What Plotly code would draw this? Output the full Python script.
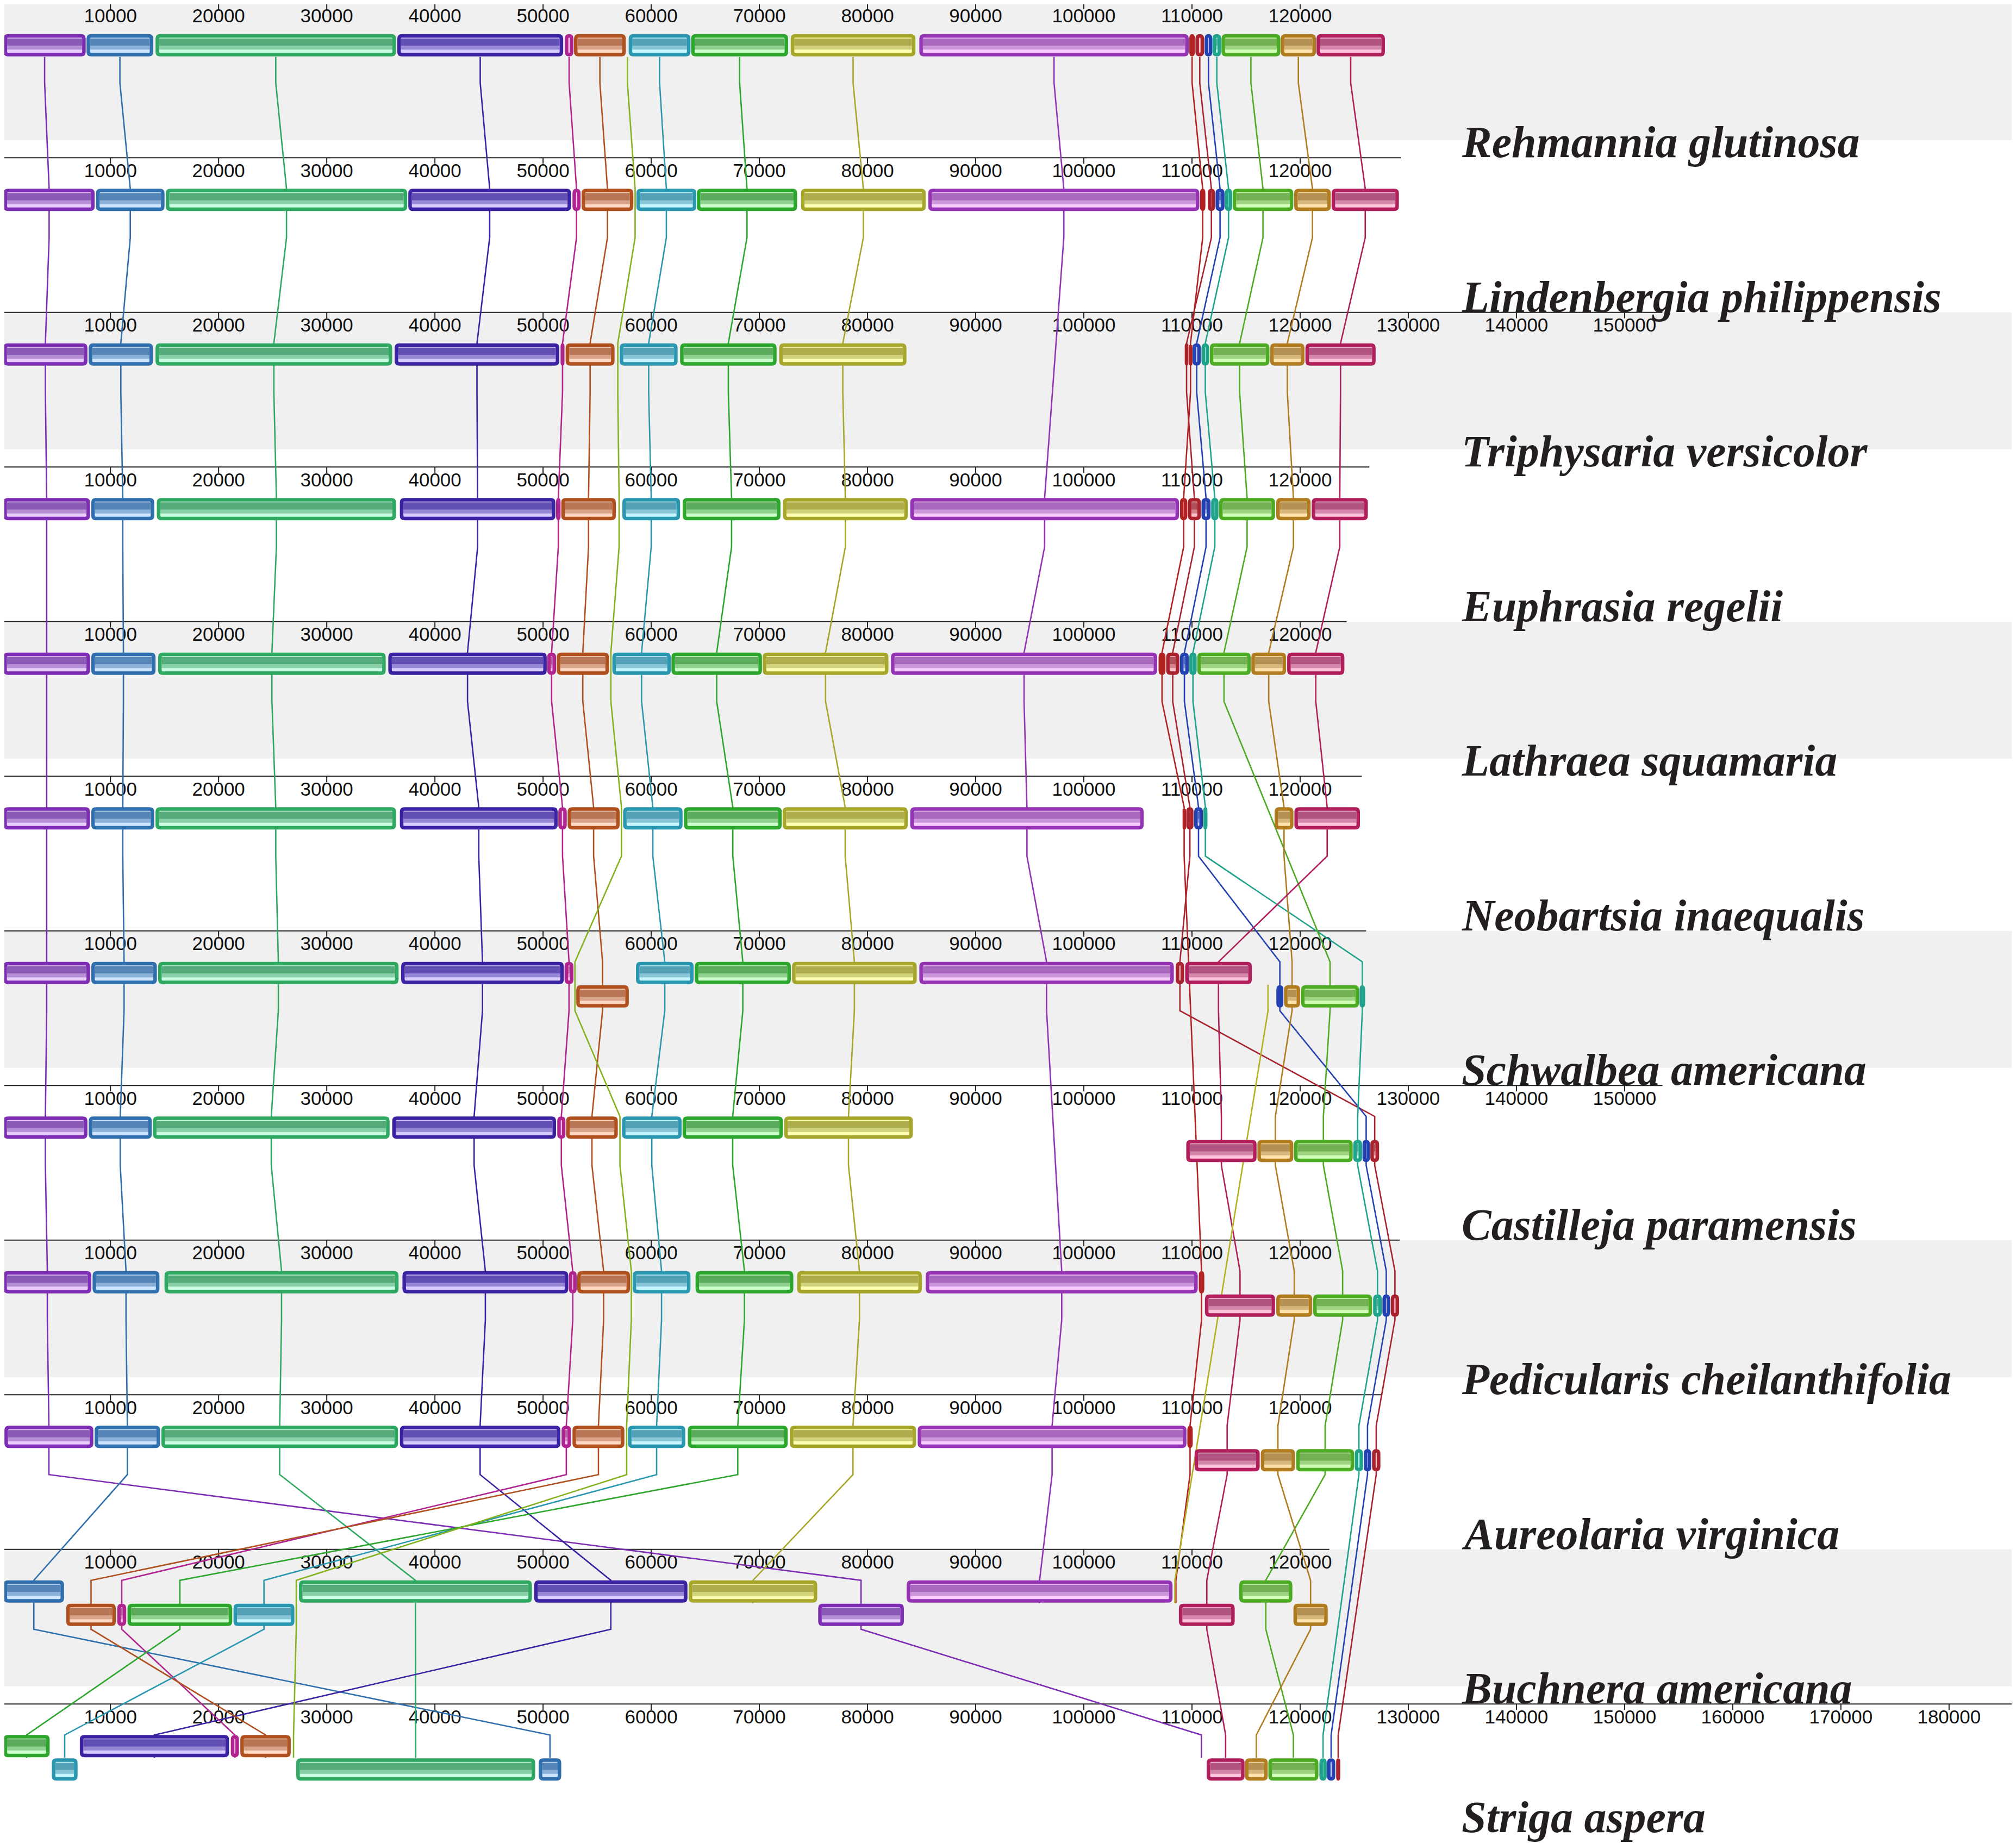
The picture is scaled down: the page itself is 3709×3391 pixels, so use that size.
import plotly.graph_objects as go

# ------------------------------------------------
# Data: genomes (top to bottom), lengths, LCB blocks
# block = (lcb id, start bp, end bp, strand)  strand -1 = drawn below centre line
# ------------------------------------------------
species = [
    "Rehmannia glutinosa", "Lindenbergia philippensis", "Triphysaria versicolor",
    "Euphrasia regelii", "Lathraea squamaria", "Neobartsia inaequalis",
    "Schwalbea americana", "Castilleja paramensis", "Pedicularis cheilanthifolia",
    "Aureolaria virginica", "Buchnera americana", "Striga aspera",
]
genome_length = [127900, 129300, 153500, 126400, 124300, 125700,
                 126100, 153500, 129200, 127500, 122700, 187000]

rehmannia = [
    ("A", 120, 7710, 1), ("B", 7790, 13960, 1), ("C", 14170, 36400, 1),
    ("D", 36520, 51860, 1), ("E", 52010, 52810, 1), ("F", 52860, 57650, 1),
    ("G", 57920, 63630, 1), ("H", 63690, 72660, 1), ("I", 72900, 84430, 1),
    ("J", 84790, 109700, 1), ("K", 109750, 110270, 1), ("L", 110320, 111120, 1),
    ("M", 111170, 111880, 1), ("N", 111890, 112700, 1), ("O", 112730, 118170, 1),
    ("P", 118210, 121460, 1), ("Q", 121510, 127840, 1),
]
lindenbergia = [
    ("A", 120, 8540, 1), ("B", 8670, 15000, 1), ("C", 15120, 37440, 1),
    ("D", 37540, 52590, 1), ("E", 52720, 53470, 1), ("F", 53560, 58350, 1),
    ("G", 58630, 64170, 1), ("H", 64220, 73490, 1), ("I", 73850, 85380, 1),
    ("J", 85620, 110680, 1), ("K", 110740, 111240, 1), ("L", 111460, 112130, 1),
    ("M", 112180, 113010, 1), ("N", 113040, 113720, 1), ("O", 113760, 119370, 1),
    ("P", 119450, 122830, 1), ("Q", 122910, 129130, 1),
]
triphysaria = [
    ("A", 100, 7870, 1), ("B", 7990, 13930, 1), ("C", 14170, 36050, 1),
    ("D", 36280, 51500, 1), ("E", 51620, 51980, 1), ("F", 52090, 56610, 1),
    ("G", 57090, 62440, 1), ("H", 62670, 71590, 1), ("I", 71830, 83600, 1),
    ("L", 109330, 109670, 1), ("K", 109710, 110020, 1), ("M", 110050, 110820, 1),
    ("N", 110880, 111580, 1), ("O", 111650, 117160, 1), ("P", 117230, 120400, 1),
    ("Q", 120490, 126980, 1),
]
euphrasia = [
    ("A", 100, 8110, 1), ("B", 8230, 14050, 1), ("C", 14290, 36400, 1),
    ("D", 36760, 51140, 1), ("E", 51200, 51620, 1), ("F", 51680, 56730, 1),
    ("G", 57330, 62670, 1), ("H", 62910, 71950, 1), ("I", 72180, 83720, 1),
    ("J", 83950, 108800, 1), ("K", 108890, 109570, 1), ("L", 109620, 110820, 1),
    ("M", 110880, 111720, 1), ("N", 111770, 112450, 1), ("O", 112510, 117680, 1),
    ("P", 117790, 120970, 1), ("Q", 121070, 126260, 1),
]
lathraea = [
    ("A", 100, 8110, 1), ("B", 8230, 14170, 1), ("C", 14410, 35450, 1),
    ("D", 35690, 50340, 1), ("E", 50380, 51200, 1), ("F", 51260, 56090, 1),
    ("G", 56410, 61810, 1), ("H", 61870, 70240, 1), ("I", 70310, 81930, 1),
    ("J", 82170, 106780, 1), ("K", 106910, 107550, 1), ("L", 107610, 108830, 1),
    ("M", 108890, 109710, 1), ("N", 109750, 110430, 1), ("O", 110490, 115430, 1),
    ("P", 115490, 118700, 1), ("Q", 118800, 124090, 1),
]
neobartsia = [
    ("A", 100, 8110, 1), ("B", 8230, 14050, 1), ("C", 14170, 36400, 1),
    ("D", 36760, 51350, 1), ("E", 51410, 52190, 1), ("F", 52270, 57080, 1),
    ("G", 57400, 62900, 1), ("H", 63020, 72070, 1), ("I", 72150, 83720, 1),
    ("J", 83950, 105530, 1), ("K", 109130, 109420, 1), ("L", 109470, 110140, 1),
    ("M", 110200, 111010, 1), ("N", 111050, 111430, 1), ("P", 117640, 119380, 1),
    ("Q", 119470, 125530, 1),
]
schwalbea = [
    ("A", 100, 8110, 1), ("B", 8230, 14290, 1), ("C", 14410, 36640, 1),
    ("D", 36880, 51920, 1), ("E", 51990, 52810, 1), ("F", 53070, 57930, -1),
    ("G", 58590, 63920, 1), ("H", 64030, 72910, 1), ("I", 73020, 84550, 1),
    ("J", 84790, 108320, 1), ("L", 108500, 109270, 1), ("Q", 109370, 115530, 1),
    ("M", 117800, 118450, -1), ("P", 118510, 120000, -1), ("O", 120090, 125440, -1),
    ("N", 125490, 126010, -1),
]
castilleja = [
    ("A", 100, 7870, 1), ("B", 7990, 13820, 1), ("C", 13930, 35810, 1),
    ("D", 36050, 51200, 1), ("E", 51310, 52070, 1), ("F", 52130, 56910, 1),
    ("G", 57300, 62810, 1), ("H", 62900, 72170, 1), ("I", 72290, 84190, 1),
    ("Q", 109470, 115970, -1), ("P", 116050, 119370, -1), ("O", 119440, 124860, -1),
    ("N", 124910, 125730, -1), ("M", 125760, 126450, -1), ("L", 126490, 127300, -1),
]
pedicularis = [
    ("A", 100, 8230, 1), ("B", 8350, 14530, 1), ("C", 15000, 36640, 1),
    ("D", 37000, 52330, 1), ("E", 52380, 53110, 1), ("F", 53160, 58040, 1),
    ("G", 58280, 63630, 1), ("H", 64100, 73140, 1), ("I", 73490, 85020, 1),
    ("J", 85380, 110530, 1), ("K", 110630, 111140, 1), ("Q", 111200, 117680, -1),
    ("P", 117790, 121120, -1), ("O", 121210, 126650, -1), ("N", 126750, 127560, -1),
    ("M", 127610, 128320, -1), ("L", 128380, 129150, -1),
]
aureolaria = [
    ("A", 200, 8420, 1), ("B", 8540, 14590, 1), ("C", 14710, 36590, 1),
    ("D", 36760, 51600, 1), ("E", 51710, 52590, 1), ("F", 52720, 57520, 1),
    ("G", 57850, 63150, 1), ("H", 63390, 72620, 1), ("I", 72820, 84490, 1),
    ("J", 84640, 109490, 1), ("K", 109570, 110070, 1), ("Q", 110240, 116260, -1),
    ("P", 116360, 119530, -1), ("O", 119630, 124990, -1), ("N", 125050, 125820, -1),
    ("M", 125880, 126580, -1), ("L", 126650, 127420, -1),
]
buchnera = [
    ("B", 120, 5710, 1), ("F", 5910, 10500, -1), ("E", 10630, 11460, -1),
    ("H", 11580, 21260, -1), ("G", 21380, 27010, -1), ("C", 27430, 48970, 1),
    ("D", 49180, 63350, 1), ("I", 63470, 75350, 1), ("A", 75440, 83360, -1),
    ("J", 83620, 108200, 1), ("Q", 108790, 113950, -1), ("O", 114370, 119280, 1),
    ("P", 119380, 122550, -1),
]
striga = [
    ("H", 120, 4380, 1), ("G", 4580, 6960, -1), ("D", 7170, 20960, 1),
    ("E", 21130, 21880, 1), ("F", 22010, 26670, 1), ("C", 27180, 49270, -1),
    ("B", 49600, 51680, -1), ("Q", 111360, 114860, -1), ("P", 114900, 117000, -1),
    ("O", 117060, 121690, -1), ("N", 121780, 122460, -1), ("M", 122480, 123250, -1),
    ("L", 123330, 123710, -1),
]
genomes = [rehmannia, lindenbergia, triphysaria, euphrasia, lathraea, neobartsia,
           schwalbea, castilleja, pedicularis, aureolaria, buchnera, striga]

# LCB links that pass through a genome without a drawn block: (genome, lcb, bp)
anchors = [
    (0, "R", 57800), (1, "R", 58510), (2, "R", 56910), (3, "R", 57030),
    (4, "R", 56270), (5, "R", 57250), (6, "R", 52950), (7, "R", 57110),
    (8, "R", 58160), (9, "R", 57730), (10, "R", 27180), (11, "R", 26930),
    (6, "S", 117030), (10, "S", 108420),
    (10, "K", 108510), (11, "A", 110870),
]

# border, light fill, profile colour
lcb_colors = {
    "A": ("#7D2DB4", "#E8CCFC", "#8250B0"),
    "B": ("#2F6FAD", "#CCE4FF", "#4C7EB2"),
    "C": ("#2FA862", "#C9FCE0", "#4AA470"),
    "D": ("#3B22A3", "#D6CCFF", "#5844AE"),
    "E": ("#B0248F", "#FFC8F2", "#B0569C"),
    "F": ("#B0501F", "#FFD9C4", "#B26E4C"),
    "G": ("#2A97B0", "#C6F4FF", "#4A98B0"),
    "H": ("#2DA62D", "#CCFFCC", "#52A452"),
    "I": ("#A6A62A", "#FFFFB4", "#A6A644"),
    "J": ("#9433B3", "#F8CCFF", "#A060B8"),
    "K": ("#B22222", "#FFBDBD", "#B24848"),
    "L": ("#A8232E", "#FFC0C8", "#A84850"),
    "M": ("#2341B0", "#C8D4FF", "#4860B8"),
    "N": ("#1FA38A", "#BEFFF0", "#40A894"),
    "O": ("#4CAB22", "#D2FFB8", "#6AA84A"),
    "P": ("#B07C1F", "#FFE2AC", "#AE8A4A"),
    "Q": ("#B01F5C", "#FFC4DC", "#AA4A78"),
    "R": ("#86B11E", "#E8FFB0", "#86B11E"),
    "S": ("#B2B220", "#FFFFB0", "#B2B220"),
}

# ------------------------------------------------
# Layout geometry (pixels); PAGE_PAD offsets the default page margin
# ------------------------------------------------
W, H = 3709, 3391
PAGE_PAD = 8
PX_PER_BP = 0.019898
X0_PX = 4.21
ROW0, ROW_STEP = 5.7, 284.5
BORDER = 6.5
bp_pad = (BORDER / 2) / PX_PER_BP

x_lo = (PAGE_PAD - X0_PX) / PX_PER_BP
x_hi = (W + PAGE_PAD - X0_PX) / PX_PER_BP


def row_y(i):
    return ROW0 + i * ROW_STEP


def rounded_path(x0, x1, y0, y1, rx, ry):
    if x1 <= x0:
        x1 = x0 + 1
    rx = min(rx, (x1 - x0) / 2)
    ry = min(ry, (y1 - y0) / 2)
    return (f"M{x0+rx},{y0} L{x1-rx},{y0} Q{x1},{y0} {x1},{y0+ry} "
            f"L{x1},{y1-ry} Q{x1},{y1} {x1-rx},{y1} L{x0+rx},{y1} "
            f"Q{x0},{y1} {x0},{y1-ry} L{x0},{y0+ry} Q{x0},{y0} {x0+rx},{y0} Z")


fig = go.Figure()
shapes = []
annotations = []

# alternating grey bands
for i in range(0, len(species), 2):
    r = row_y(i)
    shapes.append(dict(type="rect", xref="x", x0=x_lo, x1=x_hi, yref="y", y0=r, y1=r + 252,
                       fillcolor="#F0F0F0", line=dict(width=0), layer="below"))

# rulers, ticks, tick labels
rx_, ry_, tx, ty, lx, ly, lt = [], [], [], [], [], [], []
for i, length in enumerate(genome_length):
    r = row_y(i)
    rx_ += [0, length, None]
    ry_ += [r, r, None]
    for t in range(10000, min(length, 180000) + 1, 10000):
        tx += [t, t, None]
        ty += [r, r + 11, None]
        lx.append(t)
        ly.append(r + 27)
        lt.append(str(t))

fig.add_trace(go.Scatter(x=rx_, y=ry_, mode="lines", line=dict(color="#222222", width=2),
                         hoverinfo="skip"))
fig.add_trace(go.Scatter(x=tx, y=ty, mode="lines", line=dict(color="#222222", width=2),
                         hoverinfo="skip"))
fig.add_trace(go.Scatter(x=lx, y=ly, mode="text", text=lt, textposition="middle center",
                         textfont=dict(family="Liberation Sans, Arial", size=35, color="#111111"),
                         hoverinfo="skip"))

# LCB connection lines (through block centres, genome by genome)
positions = {}
for gi, blocks in enumerate(genomes):
    for lcb, s, e, strand in blocks:
        positions.setdefault(lcb, []).append((gi, (s + e) / 2))
for gi, lcb, pos in anchors:
    positions.setdefault(lcb, []).append((gi, pos))

for lcb in sorted(positions):
    pts = sorted(positions[lcb])
    xs, ys = [], []
    for k, (gi, pos) in enumerate(pts):
        r = row_y(gi)
        top = r + 99 if k == 0 else r + 57
        bottom = r + 99 if k == len(pts) - 1 else r + 147
        xs += [pos, pos]
        ys += [top, bottom]
    fig.add_trace(go.Scatter(x=xs, y=ys, mode="lines",
                             line=dict(color=lcb_colors[lcb][0], width=2.6),
                             hoverinfo="skip"))

# LCB blocks with a simple similarity-profile shading
for gi, blocks in enumerate(genomes):
    r = row_y(gi)
    for lcb, s, e, strand in blocks:
        border, light, dark = lcb_colors[lcb]
        y_out0, y_out1 = (r + 57, r + 98) if strand > 0 else (r + 100, r + 141)
        x0, x1 = s + bp_pad, e - bp_pad
        if (e - s) * PX_PER_BP > 16:
            ix0, ix1 = s + 2 * bp_pad, e - 2 * bp_pad
            iy0 = y_out0 + BORDER
            shapes.append(dict(type="rect", xref="x", yref="y", x0=ix0, x1=ix1,
                               y0=iy0 - 1, y1=y_out1 - BORDER + 1, fillcolor=light,
                               line=dict(width=0), layer="above"))
            shapes.append(dict(type="rect", xref="x", yref="y", x0=ix0, x1=ix1,
                               y0=iy0 + 1.5, y1=iy0 + 15, fillcolor=dark, opacity=0.92,
                               line=dict(width=0), layer="above"))
            shapes.append(dict(type="rect", xref="x", yref="y", x0=ix0, x1=ix1,
                               y0=iy0 + 15, y1=iy0 + 22, fillcolor=dark, opacity=0.5,
                               line=dict(width=0), layer="above"))
            fill = "rgba(0,0,0,0)"
        else:
            fill = light
        shapes.append(dict(type="path", xref="x", yref="y",
                           path=rounded_path(x0, x1, y_out0 + BORDER / 2, y_out1 - BORDER / 2,
                                             5 / PX_PER_BP, 5),
                           fillcolor=fill, line=dict(color=border, width=BORDER), layer="above"))

# species labels
for i, name in enumerate(species):
    r = row_y(i)
    yc = r + 256 if i < len(species) - 1 else r + 208
    annotations.append(dict(xref="paper", x=(2687 - PAGE_PAD) / W, yref="y", y=yc,
                            xanchor="left", yanchor="middle", showarrow=False,
                            text=f"<b><i>{name}</i></b>",
                            font=dict(family="Liberation Serif, Times New Roman", size=82,
                                      color="#231F20")))

fig.update_layout(
    width=W, height=H,
    margin=dict(l=0, r=0, t=0, b=0),
    paper_bgcolor="white", plot_bgcolor="white",
    showlegend=False, hovermode=False,
    shapes=shapes, annotations=annotations,
    xaxis=dict(range=[x_lo, x_hi], visible=False, fixedrange=True),
    yaxis=dict(range=[H + PAGE_PAD, PAGE_PAD], visible=False, fixedrange=True),
)

fig.write_html("out.html")
